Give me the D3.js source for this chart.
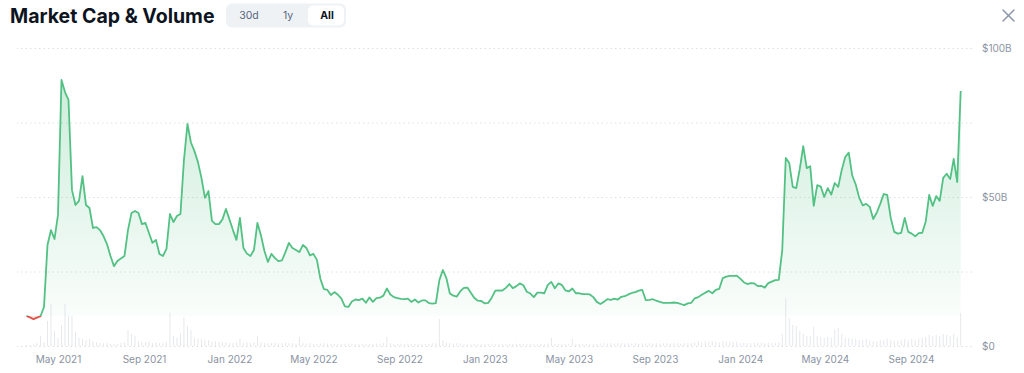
<!DOCTYPE html>
<html><head><meta charset="utf-8">
<script src="https://cdn.jsdelivr.net/npm/d3@7"></script>
<style>
body{margin:0;background:#fff;}
svg{display:block;font-family:Inter,"Noto Sans",sans-serif;}
</style>
</head><body>
<svg id="c" width="1024" height="373"></svg>
<script>
// ---- data (market cap in $B, volume in $B, one reading every 5 days) ----
const startDate = "2021-03-17";
const stepDays = 5;
const marketCap = [
10.1,9.6,9.0,9.5,10.0,13.1,33.9,38.9,35.9,44.0,
89.3,85.2,82.6,52.3,47.3,48.7,57.0,47.3,46.3,39.6,
39.9,38.9,36.9,34.2,30.2,26.8,28.5,29.4,30.2,38.9,
44.6,45.3,44.6,40.9,41.3,37.9,34.6,35.6,30.9,30.2,
32.6,44.3,41.6,43.6,44.3,62.4,74.5,68.3,65.4,61.7,
56.4,49.7,52.0,42.0,40.9,40.9,42.5,46.0,42.5,38.9,
35.6,43.0,32.9,31.0,30.2,32.2,41.3,37.2,31.9,28.2,
30.9,29.5,28.5,28.7,31.5,34.6,32.9,32.2,31.5,33.9,
32.9,30.4,30.9,28.9,22.5,19.1,18.8,17.1,18.1,17.2,
15.9,13.3,13.1,14.9,15.6,15.4,15.9,14.5,16.3,14.8,
16.1,16.2,16.9,19.3,17.3,16.4,16.1,15.8,15.7,15.9,
14.8,15.6,14.6,15.3,15.3,14.4,14.2,14.4,22.1,25.5,
22.8,17.6,16.9,16.6,18.4,19.5,19.6,17.9,16.1,15.2,
15.1,14.3,14.5,16.3,18.6,18.7,18.6,19.5,20.8,19.4,
20.1,21.0,20.4,18.2,17.6,16.4,17.9,17.9,17.7,20.5,
21.5,19.4,21.0,20.5,18.7,18.3,19.3,17.7,17.7,17.4,
17.4,17.3,16.4,14.8,14.1,14.8,15.7,15.5,15.9,15.6,
16.5,16.7,17.3,17.8,18.1,18.6,18.8,15.4,15.5,15.7,
15.2,14.8,14.5,14.5,14.5,14.6,14.5,14.1,13.7,14.3,
14.5,16.0,16.4,17.2,17.9,18.5,17.7,18.8,19.2,22.8,
23.3,23.5,23.5,23.6,22.6,21.4,20.8,21.1,21.0,20.1,
20.2,19.6,21.1,21.6,22.1,22.2,32.2,63.1,61.4,53.4,
53.0,59.4,67.1,59.7,60.3,47.0,54.0,53.5,50.0,53.0,
50.8,54.7,53.4,59.1,63.4,64.9,57.2,54.2,49.7,47.2,
47.7,46.7,42.6,44.7,47.7,51.0,50.7,43.0,38.3,37.7,
38.0,43.0,38.3,37.7,36.8,37.9,38.0,41.7,50.7,47.0,
50.3,48.7,56.4,57.8,56.0,62.8,55.0,85.6
];
const volume = [
0.2,0.2,0.3,0.6,2.1,0.8,5.2,8.75,3.1,1.7,
4.4,8.75,6.25,6.25,2.9,1.7,1.5,1.25,1.5,1.0,
0.8,0.6,0.6,0.6,0.4,0.4,0.4,0.6,0.8,3.3,
2.5,2.1,1.0,0.8,0.8,1.0,0.6,0.8,0.6,0.6,
0.8,6.9,2.1,1.7,2.7,6.0,4.2,3.3,1.7,1.5,
1.5,1.25,1.25,1.0,1.0,0.8,0.8,0.8,0.6,0.6,
0.8,1.5,0.6,0.8,0.6,0.8,2.1,0.8,0.6,0.6,
0.6,0.7,0.6,0.6,0.7,0.6,0.6,0.5,1.9,0.6,
0.5,0.6,0.5,0.4,0.5,0.6,0.5,0.4,0.5,0.5,
0.4,0.5,0.5,0.4,0.5,0.4,0.5,0.4,0.5,0.4,
0.5,0.5,0.6,1.9,0.6,0.5,0.4,0.5,0.4,0.5,
0.4,0.5,0.4,0.5,0.4,0.5,0.6,0.6,5.6,1.25,
0.8,0.6,0.5,0.6,0.5,0.4,0.5,0.4,0.5,0.4,
0.5,0.4,0.4,0.5,0.4,0.5,0.4,0.4,0.5,0.4,
0.5,0.4,0.4,0.4,0.5,0.4,0.4,0.5,0.4,0.5,
1.7,0.5,0.4,0.4,0.5,0.4,1.5,0.5,0.4,0.4,
0.5,0.4,0.5,0.4,0.5,0.6,0.5,0.6,0.5,0.6,
0.6,0.5,0.6,0.5,0.6,0.5,0.6,0.5,0.6,0.5,
0.6,0.5,0.6,0.6,0.5,0.6,0.6,0.5,0.6,0.6,
0.6,0.8,1.0,0.8,1.0,0.8,1.0,0.9,0.8,1.0,
0.9,1.0,0.8,0.9,0.6,0.7,0.6,0.6,0.7,0.6,
0.7,0.6,0.7,0.6,0.7,0.8,2.5,10,5.8,4.4,
4.2,3.1,2.5,2.1,2.1,4.0,2.1,1.9,1.7,1.9,
1.7,3.5,3.75,2.5,1.7,1.7,1.5,1.5,1.25,1.25,
1.5,1.25,1.0,1.0,1.25,1.25,1.5,1.25,1.0,1.0,
1.25,1.5,1.25,1.5,1.25,1.5,1.7,1.9,2.3,2.1,
2.3,2.1,2.5,2.3,2.1,2.5,1.9,6.9
];
const gridTicks = [0,25,50,75,100];
const labelTicks = [0,50,100];
const rangeButtons = ["30d","1y","All"];
const activeButton = "All";
const title = "Market Cap & Volume";

// ---- build ----
const parse = d3.timeParse("%Y-%m-%d");
const t0 = parse(startDate);
const data = marketCap.map((v,i)=>({date:d3.timeDay.offset(t0, i*stepDays), cap:v, vol:volume[i]}));

const svg = d3.select("#c");
const x = d3.scaleTime().domain(d3.extent(data,d=>d.date)).range([26.5,960.7]);
const y = d3.scaleLinear().domain([0,100]).range([346,48]);
const yVol = d3.scaleLinear().domain([0,10]).range([346,298]);
const base = marketCap[0];
const yBase = y(base);

const defs = svg.append("defs");
const grad = defs.append("linearGradient").attr("id","gfill")
  .attr("gradientUnits","userSpaceOnUse").attr("x1",0).attr("x2",0)
  .attr("y1",y(d3.max(marketCap))).attr("y2",yBase);
grad.append("stop").attr("offset","0%").attr("stop-color","#4fbf80").attr("stop-opacity",0.28);
grad.append("stop").attr("offset","100%").attr("stop-color","#4fbf80").attr("stop-opacity",0.03);
defs.append("clipPath").attr("id","above").append("rect")
  .attr("x",0).attr("y",0).attr("width",1024).attr("height",yBase);
defs.append("clipPath").attr("id","below").append("rect")
  .attr("x",0).attr("y",yBase).attr("width",1024).attr("height",373-yBase);

// gridlines
svg.append("g").attr("transform","translate(972,0)")
  .call(d3.axisRight(y).tickValues(gridTicks).tickSize(-955).tickFormat(""))
  .call(g=>g.select(".domain").remove())
  .call(g=>g.selectAll("line").attr("stroke","#dde0e5").attr("stroke-dasharray","1.5,3"));

// y labels
svg.append("g").attr("transform","translate(982,0)")
  .call(d3.axisRight(y).tickValues(labelTicks).tickSize(0).tickPadding(0)
    .tickFormat(d=>"$"+d+(d? "B":"")))
  .call(g=>g.select(".domain").remove())
  .call(g=>g.selectAll("text").attr("fill","#8a93a3").attr("font-size","10px")
    .attr("font-family","Inter,sans-serif"));

// x labels
svg.append("g").attr("transform","translate(0,356)")
  .call(d3.axisBottom(x).tickValues(d3.timeMonth.every(4).range(x.domain()[0], x.domain()[1]))
    .tickSize(0).tickPadding(0).tickFormat(d3.timeFormat("%b %Y")))
  .call(g=>g.select(".domain").remove())
  .call(g=>g.selectAll("text").attr("fill","#8a93a3").attr("font-size","10px")
    .attr("font-family","Inter,sans-serif"));

// volume bars
svg.append("g").selectAll("rect").data(data).join("rect")
  .attr("x",d=>x(d.date)-0.5).attr("width",1)
  .attr("y",d=>yVol(d.vol)).attr("height",d=>yVol(0)-yVol(d.vol))
  .attr("fill","#e6e8ec");

// areas
const area = d3.area().x(d=>x(d.date)).y0(yBase).y1(d=>y(d.cap));
svg.append("path").datum(data).attr("d",area).attr("fill","url(#gfill)").attr("clip-path","url(#above)");
svg.append("path").datum(data).attr("d",area).attr("fill","#ea3943").attr("fill-opacity",0.15).attr("clip-path","url(#below)");

// lines
const line = d3.line().x(d=>x(d.date)).y(d=>y(d.cap));
svg.append("path").datum(data).attr("d",line).attr("fill","none").attr("stroke","#52c183")
  .attr("stroke-width",1.8).attr("stroke-linejoin","round").attr("clip-path","url(#above)");
svg.append("path").datum(data).attr("d",line).attr("fill","none").attr("stroke","#e0514b")
  .attr("stroke-width",1.8).attr("stroke-linejoin","round").attr("clip-path","url(#below)");

// title
svg.append("text").attr("x",10).attr("y",23).text(title)
  .attr("font-size","19.5px").attr("font-weight",700).attr("fill","#0d1421");

// range toggle
const tg = svg.append("g");
tg.append("rect").attr("x",226).attr("y",3.5).attr("width",120).attr("height",24).attr("rx",6).attr("fill","#eff2f5");
const btnX = d3.scalePoint().domain(rangeButtons).range([249,327]);
tg.append("rect").attr("x",308).attr("y",5.5).attr("width",36).attr("height",20).attr("rx",5).attr("fill","#fff");
tg.selectAll("text").data(rangeButtons).join("text")
  .attr("x",d=>btnX(d)).attr("y",19.3).attr("text-anchor","middle")
  .attr("font-size","10.5px").attr("font-weight",d=>d===activeButton?700:400)
  .attr("fill",d=>d===activeButton?"#0d1421":"#58667e").text(d=>d);

// close icon
const cx = svg.append("g").attr("stroke","#8c96a8").attr("stroke-width",1.5).attr("stroke-linecap","round");
cx.append("line").attr("x1",1003).attr("y1",10).attr("x2",1014).attr("y2",21);
cx.append("line").attr("x1",1014).attr("y1",10).attr("x2",1003).attr("y2",21);
</script>
</body></html>
